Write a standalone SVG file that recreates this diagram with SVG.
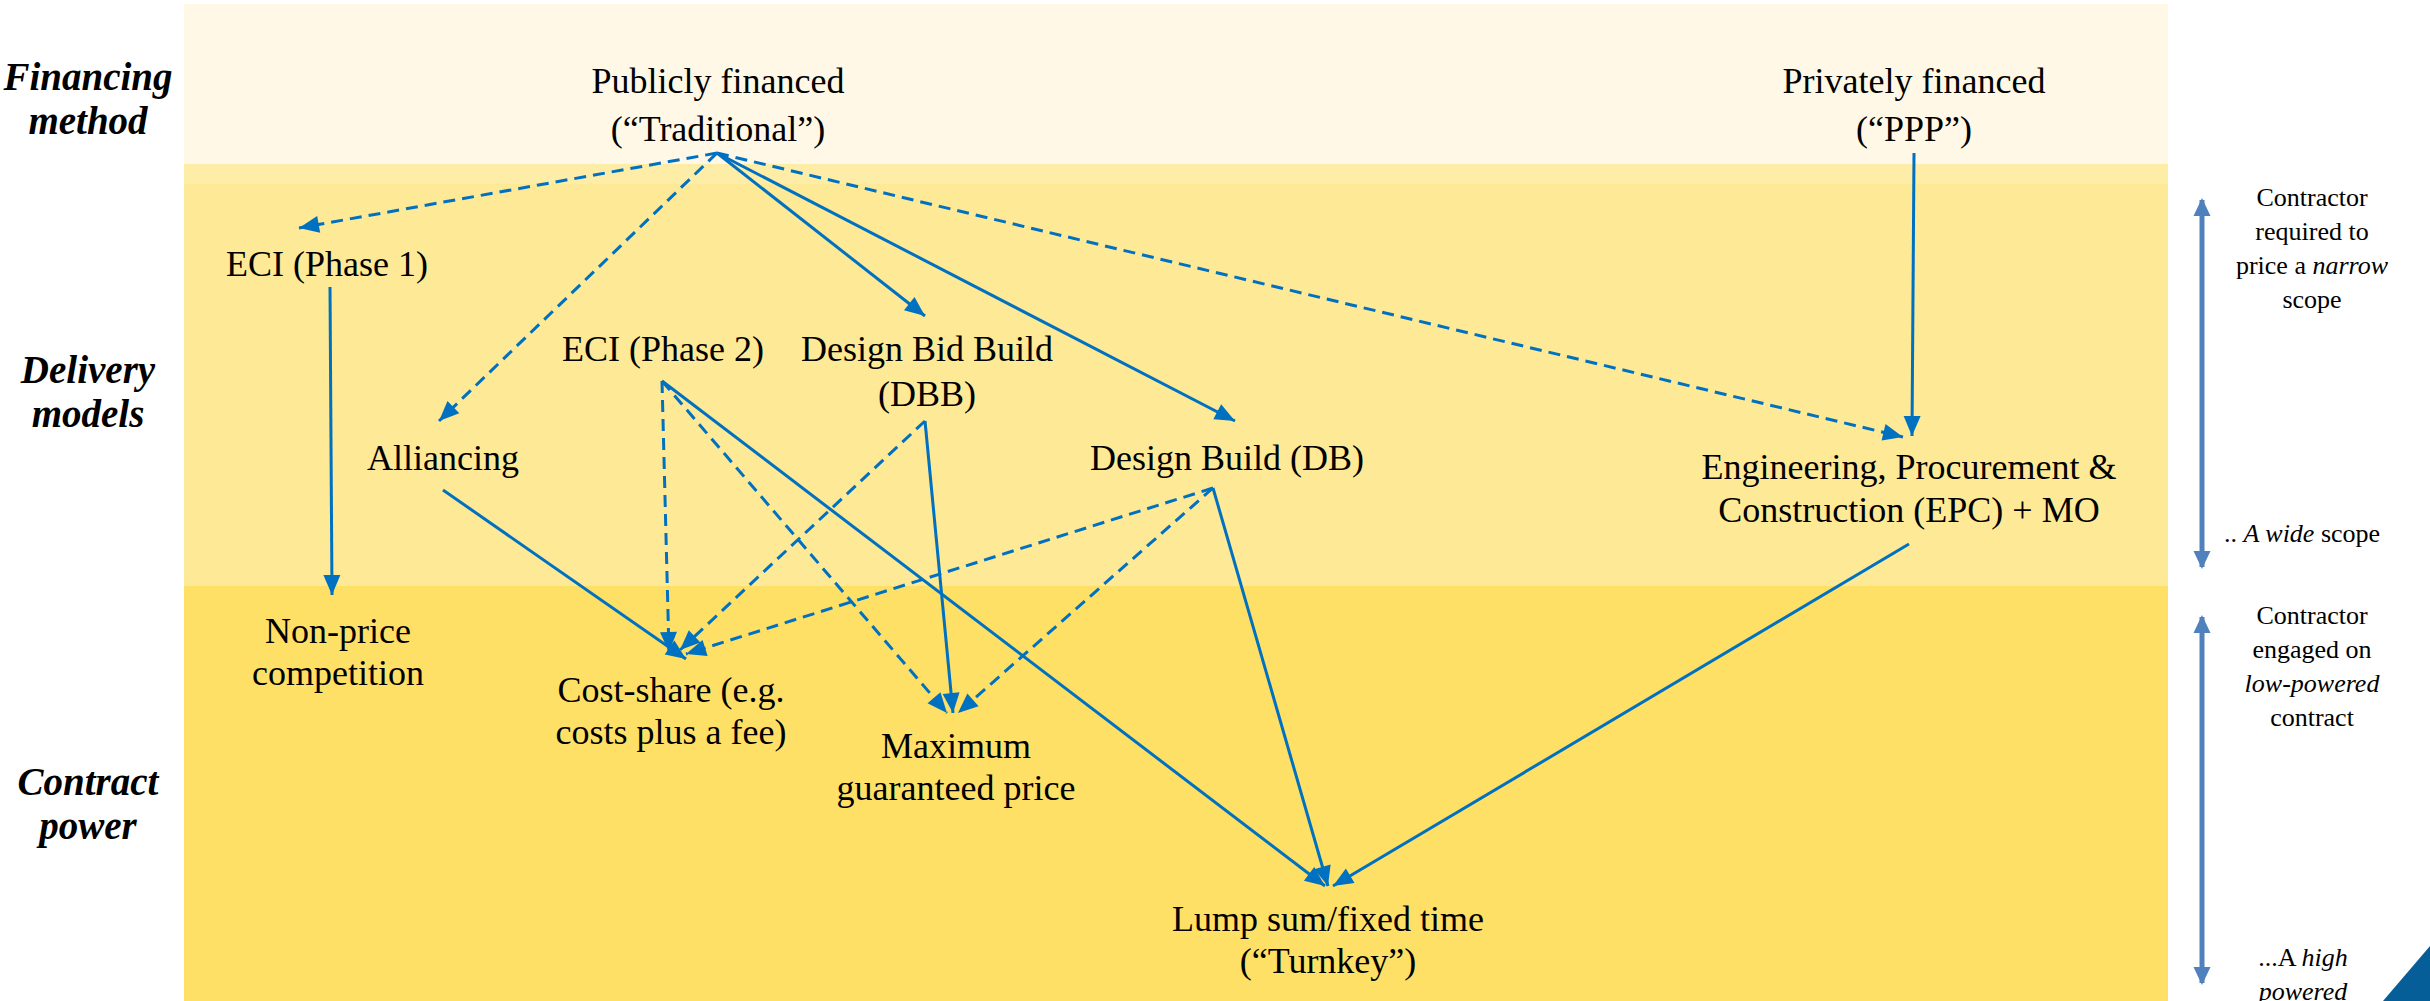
<svg xmlns="http://www.w3.org/2000/svg" width="2430" height="1001" viewBox="0 0 2430 1001">
<style>
.t{font-family:"Liberation Serif","Times New Roman",serif;font-size:36px;fill:#000;text-anchor:middle}
.h{font-family:"Liberation Serif","Times New Roman",serif;font-size:39px;font-weight:bold;font-style:italic;fill:#000;text-anchor:middle}
.s{font-family:"Liberation Serif","Times New Roman",serif;font-size:26px;fill:#000;text-anchor:middle}
.c{stroke:#0070C0;stroke-width:3;fill:none;marker-end:url(#ah)}
.d{stroke-dasharray:12 7}
.side{stroke:#4F81BD;stroke-width:5;fill:none;marker-start:url(#sa);marker-end:url(#sa)}
</style>
<defs>
<marker id="ah" markerUnits="userSpaceOnUse" markerWidth="22" markerHeight="18" refX="20" refY="8.5" orient="auto" overflow="visible">
<path d="M0,0 L20,8.5 L0,17 z" fill="#0070C0"/>
</marker>
<marker id="sa" markerUnits="userSpaceOnUse" markerWidth="20" markerHeight="18" refX="16" refY="8.5" orient="auto-start-reverse" overflow="visible">
<path d="M0,0 L18,8.5 L0,17 z" fill="#4F81BD"/>
</marker>
</defs>
<g id="bands">
<rect x="184" y="4" width="1984" height="160" fill="#FFF8E6"/>
<rect x="184" y="164" width="1984" height="20" fill="#FEEDA6"/>
<rect x="184" y="184" width="1984" height="402" fill="#FDE996"/>
<rect x="184" y="586" width="1984" height="415" fill="#FFE066"/>
</g>
<g id="row-labels">
<text class="h" x="88" y="90">Financing</text>
<text class="h" x="88" y="134">method</text>
<text class="h" x="88" y="383">Delivery</text>
<text class="h" x="88" y="427">models</text>
<text class="h" x="88" y="795">Contract</text>
<text class="h" x="88" y="839">power</text>
</g>
<g id="connectors">
<line class="c d" x1="717" y1="153" x2="299" y2="228"/>
<line class="c d" x1="717" y1="153" x2="439" y2="421"/>
<line class="c" x1="717" y1="153" x2="925" y2="316"/>
<line class="c" x1="717" y1="153" x2="1235" y2="421"/>
<line class="c d" x1="717" y1="153" x2="1903" y2="437"/>
<line class="c" x1="1914" y1="153" x2="1912" y2="436"/>
<line class="c" x1="330" y1="287" x2="332" y2="595"/>
<line class="c" x1="443" y1="490" x2="686" y2="659"/>
<line class="c d" x1="662" y1="381" x2="669" y2="652"/>
<line class="c d" x1="925" y1="421" x2="680" y2="650"/>
<line class="c d" x1="1213" y1="488" x2="686" y2="654"/>
<line class="c d" x1="662" y1="381" x2="947" y2="713"/>
<line class="c" x1="925" y1="421" x2="953" y2="713"/>
<line class="c d" x1="1213" y1="488" x2="958" y2="713"/>
<line class="c" x1="662" y1="381" x2="1325" y2="886"/>
<line class="c" x1="1213" y1="488" x2="1328" y2="886"/>
<line class="c" x1="1909" y1="544" x2="1333" y2="886"/>
</g>
<g id="publicly"><text class="t" x="718" y="93">Publicly financed</text><text class="t" x="718" y="141">(“Traditional”)</text></g>
<g id="privately"><text class="t" x="1914" y="93">Privately financed</text><text class="t" x="1914" y="141">(“PPP”)</text></g>
<g id="eci1"><text class="t" x="327" y="276">ECI (Phase 1)</text></g>
<g id="eci2"><text class="t" x="663" y="361">ECI (Phase 2)</text></g>
<g id="dbb"><text class="t" x="927" y="361">Design Bid Build</text><text class="t" x="927" y="406">(DBB)</text></g>
<g id="alliancing"><text class="t" x="443" y="470">Alliancing</text></g>
<g id="db"><text class="t" x="1227" y="470">Design Build (DB)</text></g>
<g id="epc"><text class="t" x="1909" y="479">Engineering, Procurement &amp;</text><text class="t" x="1909" y="522">Construction (EPC) + MO</text></g>
<g id="nonprice"><text class="t" x="338" y="643">Non-price</text><text class="t" x="338" y="685">competition</text></g>
<g id="costshare"><text class="t" x="671" y="702">Cost-share (e.g.</text><text class="t" x="671" y="744">costs plus a fee)</text></g>
<g id="gmp"><text class="t" x="956" y="758">Maximum</text><text class="t" x="956" y="800">guaranteed price</text></g>
<g id="lumpsum"><text class="t" x="1328" y="931">Lump sum/fixed time</text><text class="t" x="1328" y="973">(“Turnkey”)</text></g>
<g id="scope-axis">
<line class="side" x1="2202" y1="200" x2="2202" y2="567"/>
<text class="s" x="2312" y="206">Contractor</text>
<text class="s" x="2312" y="240">required to</text>
<text class="s" x="2312" y="274">price a <tspan font-style="italic">narrow</tspan></text>
<text class="s" x="2312" y="308">scope</text>
<text class="s" x="2302" y="542">.. <tspan font-style="italic">A wide</tspan> scope</text>
</g>
<g id="power-axis">
<line class="side" x1="2202" y1="617" x2="2202" y2="983"/>
<text class="s" x="2312" y="624">Contractor</text>
<text class="s" x="2312" y="658">engaged on</text>
<text class="s" x="2312" y="692" font-style="italic">low-powered</text>
<text class="s" x="2312" y="726">contract</text>
<text class="s" x="2303" y="966">...A <tspan font-style="italic">high</tspan></text>
<text class="s" x="2303" y="1000" font-style="italic">powered</text>
</g>
<polygon id="corner" points="2383,1001 2430,946 2430,1001" fill="#065E98"/>
</svg>
